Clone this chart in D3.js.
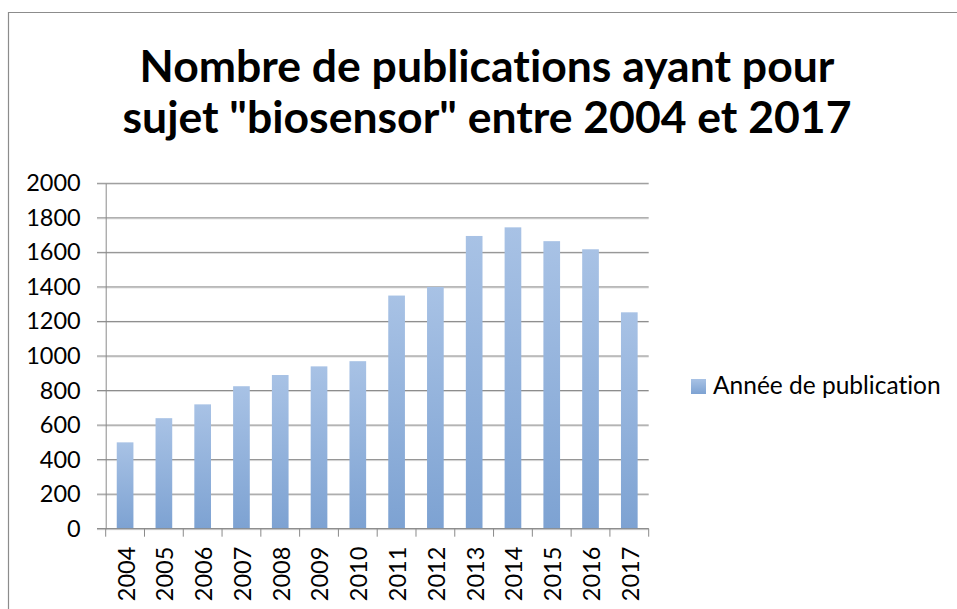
<!DOCTYPE html>
<html>
<head>
<meta charset="utf-8">
<script src="https://cdn.jsdelivr.net/npm/d3@7/dist/d3.min.js"></script>
<style>
  html, body { margin: 0; padding: 0; background: #fff; }
  svg { display: block; }
  text { font-family: Lato, "Open Sans", "Noto Sans", sans-serif; fill: #000;
         font-variant-ligatures: none; font-feature-settings: "liga" 0; }
</style>
</head>
<body>
<svg id="chart" width="957" height="609"></svg>
<script>
// Publications per year on the subject "biosensor"
const years = ["2004","2005","2006","2007","2008","2009","2010",
               "2011","2012","2013","2014","2015","2016","2017"];
const publications = [500, 640, 720, 825, 890, 940, 970,
                      1350, 1400, 1695, 1745, 1665, 1618, 1253];
const yTicks = [0, 200, 400, 600, 800, 1000, 1200, 1400, 1600, 1800, 2000];
const titleLines = ["Nombre de publications ayant pour",
                    "sujet \"biosensor\" entre 2004 et 2017"];
const seriesName = "Année de publication";

const svg = d3.select("#chart");

// bar fill: light blue fading to a deeper blue at the bottom
const defs = svg.append("defs");
const grad = defs.append("linearGradient")
  .attr("id", "barFill").attr("x1", 0).attr("y1", 0).attr("x2", 0).attr("y2", 1);
grad.append("stop").attr("offset", "0%").attr("stop-color", "#a8c2e5");
grad.append("stop").attr("offset", "100%").attr("stop-color", "#7da2d2");

// chart frame (right and bottom edges fall outside the page)
svg.append("path")
  .attr("d", "M8.5,609 V12.5 H957")
  .attr("fill", "none").attr("stroke", "#8c8c8c").attr("stroke-width", 1.2);

// title
svg.append("text")
  .attr("x", 487).attr("y", 82)
  .attr("text-anchor", "middle")
  .style("font-weight", "bold").style("font-size", "44.5px")
  .selectAll("tspan").data(titleLines).join("tspan")
  .attr("x", 487).attr("dy", (d, i) => i === 0 ? 0 : 51)
  .text(d => d);

const x = d3.scaleBand().domain(years).range([105.7, 648.7])
  .paddingInner(0.57).paddingOuter(0.285);
const y = d3.scaleLinear().domain([0, 2000]).range([528.7, 183.3]);

// gridlines with a soft shadow line underneath
const grid = svg.append("g");
grid.selectAll("line.shadow").data(yTicks).join("line")
  .attr("class", "shadow")
  .attr("x1", 97).attr("x2", 648.7)
  .attr("y1", d => y(d) + 1).attr("y2", d => y(d) + 1)
  .attr("stroke", "#dadada").attr("stroke-width", 1);
grid.selectAll("line.main").data(yTicks).join("line")
  .attr("class", "main")
  .attr("x1", 97).attr("x2", 648.7)
  .attr("y1", d => y(d)).attr("y2", d => y(d))
  .attr("stroke", "#8a8a8a").attr("stroke-width", 1);

// y axis
const yAxis = svg.append("g")
  .attr("transform", "translate(105.7,0)")
  .call(d3.axisLeft(y).tickValues(yTicks).tickSize(0).tickPadding(25).tickFormat(d3.format("d")));
yAxis.select(".domain").attr("stroke", "#8a8a8a");
yAxis.selectAll("text").style("font-size", "23.5px").attr("fill", "#000");

// bars
svg.append("g").selectAll("rect").data(years).join("rect")
  .attr("x", d => x(d))
  .attr("width", x.bandwidth())
  .attr("y", (d, i) => y(publications[i]))
  .attr("height", (d, i) => y(0) - y(publications[i]))
  .attr("fill", "url(#barFill)");

// x axis with tick marks on category boundaries
const xAxis = svg.append("g").attr("transform", `translate(0,${y(0)})`);
xAxis.append("line").attr("x1", 97).attr("x2", 648.7)
  .attr("stroke", "#8a8a8a");
const bounds = years.map(d => x(d) - x.step() * x.paddingInner() / 2).concat([648.7]);
xAxis.selectAll("line.tick").data(bounds).join("line")
  .attr("class", "tick")
  .attr("x1", d => d).attr("x2", d => d)
  .attr("y1", 0).attr("y2", 8)
  .attr("stroke", "#8a8a8a");
xAxis.selectAll("text").data(years).join("text")
  .attr("transform", d => `translate(${x(d) + x.bandwidth() / 2 + 1},18) rotate(-90)`)
  .attr("text-anchor", "end")
  .attr("dy", "0.36em")
  .style("font-size", "23.5px")
  .text(d => d);

// legend
const legend = svg.append("g").attr("transform", "translate(691,379)");
legend.append("rect").attr("width", 15).attr("height", 15).attr("fill", "url(#barFill)");
legend.append("text").attr("x", 22).attr("y", 15)
  .style("font-size", "24.5px").text(seriesName);
</script>
</body>
</html>
